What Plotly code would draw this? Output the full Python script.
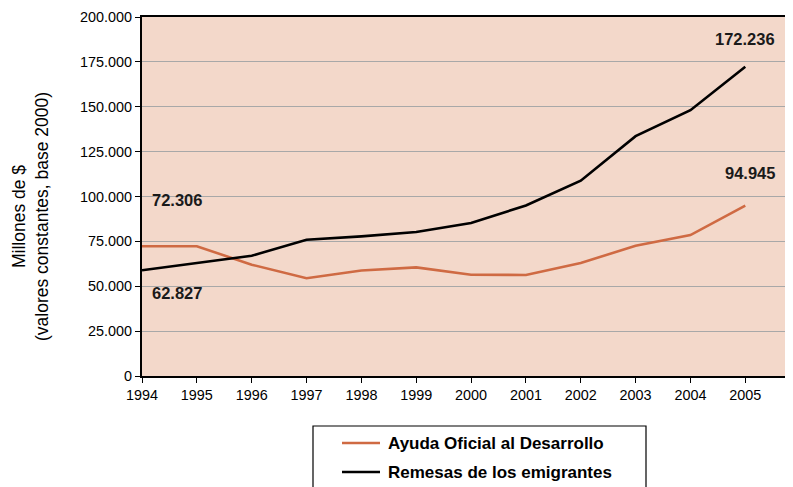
import plotly.graph_objects as go

years = [1994, 1995, 1996, 1997, 1998, 1999, 2000, 2001, 2002, 2003, 2004, 2005]
aod = [72306, 72306, 62000, 54500, 58800, 60500, 56400, 56300, 62900, 72600, 78500, 94945]
remesas = [58900, 62827, 67000, 75900, 77800, 80200, 85200, 95000, 108800, 133600, 148100, 172236]
series_names = ["Ayuda Oficial al Desarrollo", "Remesas de los emigrantes"]
series_colors = ["#CF6A43", "#000000"]
y_ticks = [0, 25000, 50000, 75000, 100000, 125000, 150000, 175000, 200000]
value_labels = [
    (1994, 72306, "72.306", 98000),
    (1994, 62827, "62.827", 46000),
    (2005, 172236, "172.236", 188000),
    (2005, 94945, "94.945", 113000),
]

OFF = 8  # browser body margin
W, H = 793 - OFF, 487 - OFF
L, R, T, B = 142 - OFF, 0, 17 - OFF, 487 - 376
pw = W - L - R
ph = H - T - B

def px(x):  # screen x -> paper
    return (x - OFF - L) / pw

def py(y):  # screen y -> paper
    return (H - B - (y - OFF)) / ph

fig = go.Figure()
for name, vals, col in zip(series_names, [aod, remesas], series_colors):
    fig.add_trace(go.Scatter(x=years, y=vals, mode="lines", name=name,
                             line=dict(color=col, width=2.6), showlegend=False))

font = "Arial, Liberation Sans, sans-serif"
ann = []
for x, yv, txt, ypos in value_labels:
    if x == 1994:
        ann.append(dict(x=px(150), xref="paper", y=ypos, yref="y", text=txt, showarrow=False,
                        xanchor="left", yanchor="middle",
                        font=dict(family=font, size=16.5, color="#1a1a1a", weight="bold")))
    else:
        ann.append(dict(x=px(777), xref="paper", y=ypos, yref="y", text=txt, showarrow=False,
                        xanchor="right", yanchor="middle",
                        font=dict(family=font, size=16.5, color="#1a1a1a", weight="bold")))

ann.append(dict(x=px(30), xref="paper", y=py(216), yref="paper",
                text="Millones de $<br>(valores constantes, base 2000)", textangle=-90,
                showarrow=False, xanchor="center", yanchor="middle",
                font=dict(family=font, size=17.5, color="#000000")))

shapes = [dict(type="rect", xref="paper", yref="paper", x0=px(313), x1=px(646),
               y0=py(426), y1=py(500), line=dict(color="#000000", width=1.2),
               fillcolor="white", layer="above")]
for i, (name, col) in enumerate(zip(series_names, series_colors)):
    yy = 443 + 29 * i
    shapes.append(dict(type="line", xref="paper", yref="paper", x0=px(342), x1=px(380),
                       y0=py(yy), y1=py(yy), line=dict(color=col, width=2.6), layer="above"))
    ann.append(dict(x=px(386), xref="paper", y=py(yy), yref="paper", text=name,
                    showarrow=False, xanchor="left", yanchor="middle",
                    font=dict(family=font, size=17, color="#000000", weight="bold")))

fig.update_layout(
    width=W, height=H,
    margin=dict(l=L, r=R, t=T, b=B, autoexpand=False),
    paper_bgcolor="white",
    plot_bgcolor="#F3D8CA",
    separators=",.",
    font=dict(family=font, size=14.4, color="#000000"),
    annotations=ann,
    shapes=shapes,
    showlegend=False,
    xaxis=dict(range=[1994, 2005.87], tickvals=years, ticktext=[str(y) for y in years],
               showgrid=False, zeroline=False, showline=True, linecolor="#000000", linewidth=2,
               mirror=True, ticks="outside", ticklen=5, tickcolor="#000000",
               tickfont=dict(size=14.4)),
    yaxis=dict(range=[0, 200000], tickvals=y_ticks, tickformat=",.0f",
               showgrid=True, gridcolor="#A8A8A8", gridwidth=1.2, zeroline=False,
               showline=True, linecolor="#000000", linewidth=2, ticks="outside",
               ticklen=5, tickcolor="#000000", tickfont=dict(size=14.4)),
)

fig.write_html("out.html")
